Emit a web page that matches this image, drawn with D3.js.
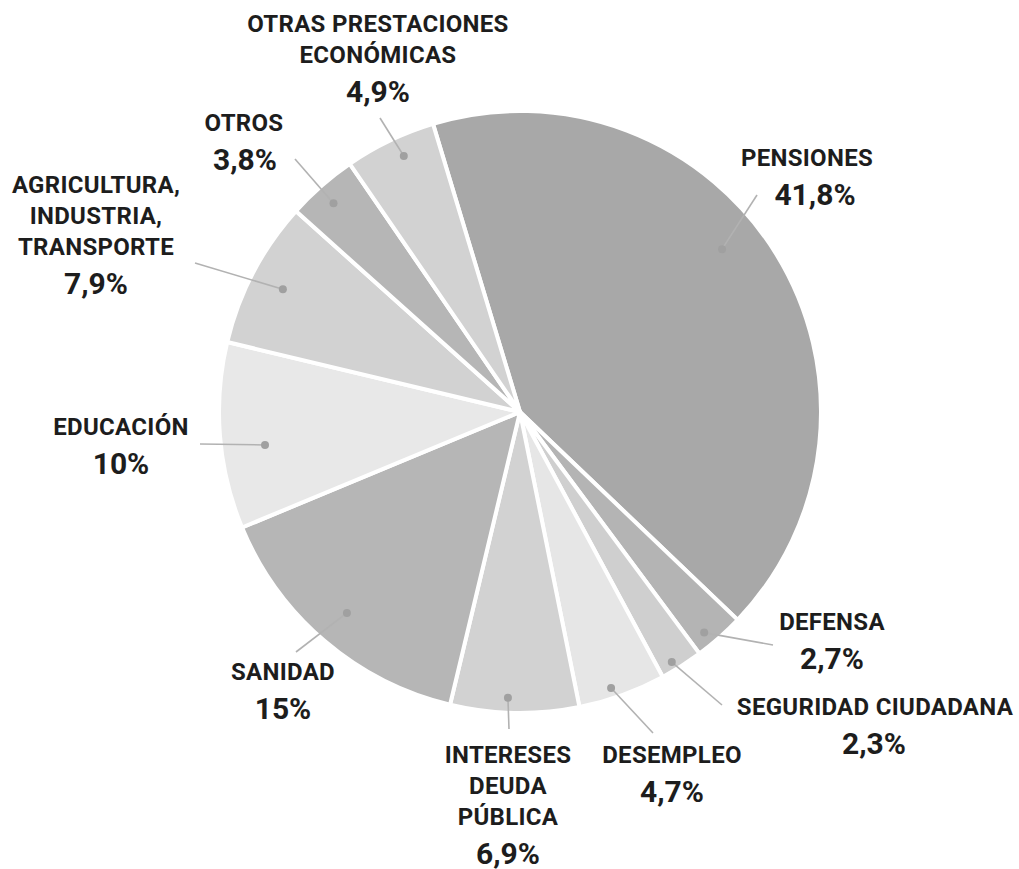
<!DOCTYPE html>
<html>
<head>
<meta charset="utf-8">
<script src="https://cdn.jsdelivr.net/npm/d3@7"></script>
<style>
  body { margin: 0; background: #fff; }
  text { font-family: Roboto, "Noto Sans", sans-serif; font-weight: 700; fill: #1d1d1d; }
</style>
</head>
<body>
<svg id="chart" width="1019" height="869"></svg>
<script>
// gasto publico por partidas (%)
const categories = ["PENSIONES", "DEFENSA", "SEGURIDAD CIUDADANA", "DESEMPLEO", "INTERESES DEUDA PÚBLICA",
  "SANIDAD", "EDUCACIÓN", "AGRICULTURA, INDUSTRIA, TRANSPORTE", "OTROS", "OTRAS PRESTACIONES ECONÓMICAS"];
const values = [41.8, 2.7, 2.3, 4.7, 6.9, 15, 10, 7.9, 3.8, 4.9];
const pctLabels = ["41,8%", "2,7%", "2,3%", "4,7%", "6,9%", "15%", "10%", "7,9%", "3,8%", "4,9%"];
const nameLines = [["PENSIONES"], ["DEFENSA"], ["SEGURIDAD CIUDADANA"], ["DESEMPLEO"],
  ["INTERESES", "DEUDA", "PÚBLICA"], ["SANIDAD"], ["EDUCACIÓN"],
  ["AGRICULTURA,", "INDUSTRIA,", "TRANSPORTE"], ["OTROS"], ["OTRAS PRESTACIONES", "ECONÓMICAS"]];
const shades = ["#a8a8a8", "#b4b4b4", "#cfcfcf", "#e6e6e6", "#d2d2d2",
  "#b6b6b6", "#e8e8e8", "#d2d2d2", "#b6b6b6", "#d2d2d2"];

// layout de etiquetas: posicion del texto, punto (fraccion del radio, desvio de angulo) y final de la linea
const labelLayout = [
  {x: 807, y: 166, px: 815, dot: 0.865, da: -7.3, end: [757, 195]},
  {x: 832, y: 630, px: 832, dot: 0.958, da: 1.6, end: [773, 645]},
  {x: 875, y: 715, px: 874, dot: 0.975, da: 1.2, end: [722, 705]},
  {x: 672, y: 763, px: 672, dot: 0.969, da: 1.6, end: [653, 733]},
  {x: 508, y: 763, px: 508, dot: 0.953, da: 1.4, end: [509, 729]},
  {x: 283, y: 680, px: 283, dot: 0.884, da: 0.3, end: [296, 652]},
  {x: 121, y: 435, px: 121, dot: 0.857, da: -2.8, end: [200, 444]},
  {x: 96, y: 193, px: 96, dot: 0.89, da: -0.3, end: [195, 263]},
  {x: 244, y: 131, px: 245, dot: 0.933, da: -0.5, end: [295, 159]},
  {x: 378, y: 32, px: 378, dot: 0.937, da: 1.2, end: [380, 118]}
];

const cx = 520, cy = 412, radius = 300;
const lineGap = 31, pctGap = 39;
const rad = d => d * Math.PI / 180;
const start = rad(-16.8);

const svg = d3.select("#chart");
const g = svg.append("g").attr("transform", "translate(" + cx + "," + cy + ")");

const pie = d3.pie().sort(null).value(d => d).startAngle(start).endAngle(start + 2 * Math.PI);
const arcs = pie(values);
const arc = d3.arc().innerRadius(0).outerRadius(radius + 1);

g.selectAll("path.slice")
  .data(arcs)
  .enter().append("path")
    .attr("class", "slice")
    .attr("d", arc)
    .attr("fill", (d, i) => shades[i])
    .attr("stroke", "#fff")
    .attr("stroke-width", 4)
    .attr("stroke-linejoin", "round");

// punto dentro de cada porcion
function dotPos(d, i) {
  const L = labelLayout[i];
  const a = (d.startAngle + d.endAngle) / 2 + rad(L.da);
  const r = radius * L.dot;
  return [cx + r * Math.sin(a), cy - r * Math.cos(a)];
}

const leaders = svg.append("g");
leaders.selectAll("line")
  .data(arcs)
  .enter().append("line")
    .attr("x1", (d, i) => dotPos(d, i)[0])
    .attr("y1", (d, i) => dotPos(d, i)[1])
    .attr("x2", (d, i) => labelLayout[i].end[0])
    .attr("y2", (d, i) => labelLayout[i].end[1])
    .attr("stroke", "#b2b2b2")
    .attr("stroke-width", 1.6);

leaders.selectAll("circle")
  .data(arcs)
  .enter().append("circle")
    .attr("cx", (d, i) => dotPos(d, i)[0])
    .attr("cy", (d, i) => dotPos(d, i)[1])
    .attr("r", 4)
    .attr("fill", "#a0a0a0");

const labels = svg.append("g").selectAll("g.label")
  .data(categories)
  .enter().append("g")
    .attr("class", "label");

labels.each(function(c, i) {
  const L = labelLayout[i];
  const sel = d3.select(this);
  nameLines[i].forEach((t, k) => {
    sel.append("text")
      .attr("x", L.x)
      .attr("y", L.y + k * lineGap)
      .attr("text-anchor", "middle")
      .style("font-size", "24px")
      .style("letter-spacing", "0.3px")
      .text(t);
  });
  sel.append("text")
    .attr("x", L.px)
    .attr("y", L.y + (nameLines[i].length - 1) * lineGap + pctGap)
    .attr("text-anchor", "middle")
    .style("font-size", "30px")
    .text(pctLabels[i]);
});
</script>
</body>
</html>
